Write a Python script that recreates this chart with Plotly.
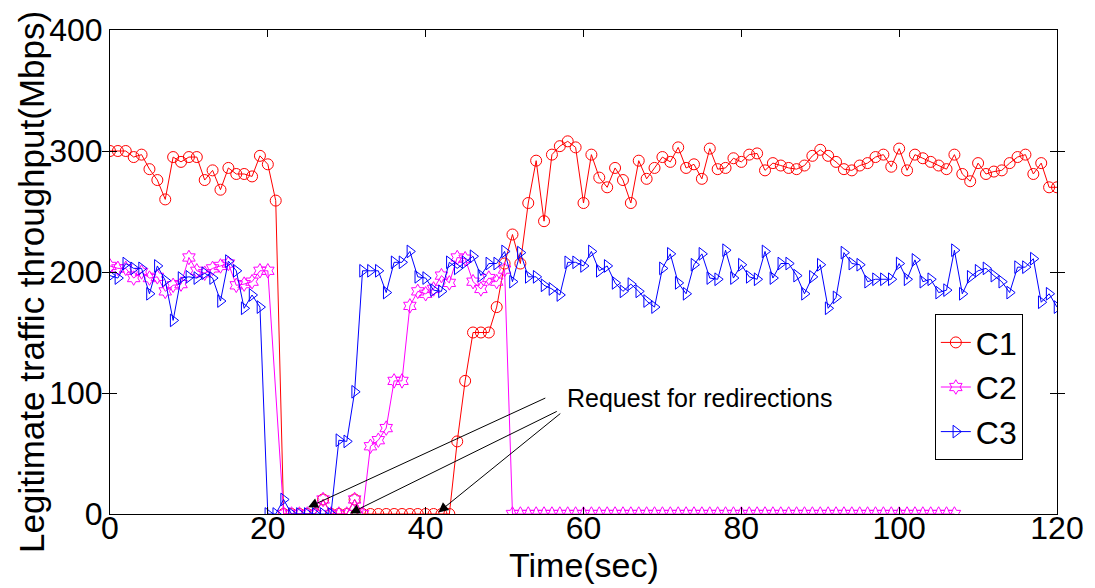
import plotly.graph_objects as go

# time axis (seconds)
t_c1 = list(range(0, 121))
t_c2 = list(range(0, 21)) + list(range(22, 108))
t_c3 = list(range(0, 121))

# throughput in Mbps
c1 = [300, 300, 300, 295, 297, 285, 276, 260, 295, 291, 295, 295, 276, 284, 268, 286, 281, 281, 279, 296, 289, 259,
      0, 0, 0, 0, 0, 12, 0, 0, 0, 12, 0, 0, 0, 0, 0, 0, 0, 0, 0, 0, 0, 0,
      60, 110, 150, 150, 150, 171, 207, 231, 207, 257, 292, 242, 297, 304, 308, 303, 257, 297, 278, 270,
      286, 276, 257, 292, 277, 286, 295, 291, 303, 286, 289, 277, 302, 285, 286, 294, 291, 297, 298, 284,
      290, 288, 286, 285, 288, 296, 301, 296, 291, 285, 284, 288, 290, 295, 297, 287, 302, 284, 297, 294,
      291, 288, 285, 297, 281, 275, 290, 281, 283, 284, 290, 295, 297, 281, 290, 270, 270]

c2 = [205, 203, 203, 195, 200, 195, 196, 184, 189, 190, 212, 201, 199, 203, 205, 207, 189, 190, 192, 201, 201,
      0, 0, 0, 0, 0, 12, 0, 0, 0, 12, 0,
      56, 61, 71, 110, 110, 172, 184, 182, 186, 197, 191, 212, 211, 192, 186, 195, 192, 202,
      0, 0, 0, 0, 0, 0, 0, 0, 0, 0, 0, 0, 0, 0, 0, 0, 0, 0, 0, 0, 0, 0, 0, 0, 0, 0, 0, 0, 0,
      0, 0, 0, 0, 0, 0, 0, 0, 0, 0, 0, 0, 0, 0, 0, 0, 0, 0, 0, 0, 0, 0, 0, 0, 0, 0, 0, 0]

c3 = [197, 195, 207, 203, 203, 182, 205, 193, 160, 195, 196, 195, 199, 195, 176, 209, 201, 170, 181, 171,
      0, 0, 12, 0, 0, 0, 0, 0, 0,
      61, 60, 101,
      201, 201, 201, 183, 208, 208, 217, 196, 195, 185, 184, 208, 203, 208, 213, 197, 207, 207, 217, 192,
      216, 196, 196, 189, 186, 181, 208, 208, 205, 217, 201, 205, 191,
      184, 190, 184, 176, 171, 203, 215, 191, 182, 206, 215, 195, 194, 218, 195, 206, 196, 194, 217, 195,
      207, 207, 197, 182, 196, 206, 170, 179, 216, 207, 206, 192, 194, 194, 194, 207, 194, 210, 192, 194,
      183, 185, 218, 182, 196, 201, 203, 197, 192, 183, 204, 204, 211, 175, 182, 171]

series = [
    ("C1", t_c1, c1, "#ff0000", "circle-open", 11),
    ("C2", t_c2, c2, "#ff00ff", "hexagram-open", 11),
    ("C3", t_c3, c3, "#0000ff", "triangle-right-open", 11),
]

x_ticks = [0, 20, 40, 60, 80, 100, 120]
y_ticks = [0, 100, 200, 300, 400]

FONT = "Liberation Sans, Arial, Helvetica, sans-serif"
TICK_FONT = dict(family=FONT, size=32, color="black")

fig = go.Figure()
for name, tx, vals, color, symbol, size in series:
    fig.add_trace(go.Scatter(
        x=tx, y=vals, name=name, mode="lines+markers",
        line=dict(color=color, width=1),
        marker=dict(symbol=symbol, size=size, color=color, line=dict(color=color, width=1)),
    ))

# empty trace that carries the tick-label axis for time
fig.add_trace(go.Scatter(
    x=x_ticks, y=[None] * len(x_ticks), xaxis="x2", mode="markers",
    showlegend=False, hoverinfo="skip",
))

# arrows pointing at the redirection requests: (head_x, head_y, tail_x, tail_y)
arrows = [(25.1, 5.5, 55.35, 96.4), (30.4, 0.5, 56.8, 85.4), (41.6, 1.3, 57.25, 84.0)]
annotations = []
for hx, hy, tx_, ty in arrows:
    annotations.append(dict(
        x=hx, y=hy, ax=tx_, ay=ty, xref="x", yref="y", axref="x", ayref="y",
        text="", showarrow=True, arrowhead=2, arrowsize=2, arrowwidth=1, arrowcolor="black",
    ))
annotations.append(dict(
    x=57.7, y=96, xref="x", yref="y", text="Request for redirections", showarrow=False,
    xanchor="left", yanchor="middle", font=dict(family=FONT, size=25, color="black"),
))
annotations.append(dict(
    x=0.5, y=0, xref="paper", yref="paper", text="Time(sec)", showarrow=False,
    xanchor="center", yanchor="middle", yshift=-51, font=dict(family=FONT, size=34, color="black"),
))
annotations.append(dict(
    x=0, y=0.5, xref="paper", yref="paper", text="Legitimate traffic throughput(Mbps)", showarrow=False,
    xanchor="center", yanchor="middle", xshift=-79, yshift=-10, textangle=-90,
    font=dict(family=FONT, size=35, color="black"),
))

frame = dict(
    showline=True, linecolor="black", linewidth=1, mirror="allticks",
    ticks="inside", ticklen=7, tickcolor="black", tickwidth=1,
    showgrid=False, zeroline=False, automargin=False,
)

fig.update_layout(
    width=1095, height=588,
    margin=dict(l=110, r=38, t=30, b=74),
    paper_bgcolor="white", plot_bgcolor="white",
    xaxis=dict(range=[0, 120], tickvals=x_ticks, showticklabels=False, **frame),
    # tick labels for the time axis, set just under the frame
    xaxis2=dict(range=[0, 120], tickvals=x_ticks, overlaying="x", anchor="free", position=0.017,
                side="bottom", showline=False, ticks="", showgrid=False, zeroline=False,
                automargin=False, tickfont=TICK_FONT),
    yaxis=dict(range=[0, 400], tickvals=y_ticks, tickfont=TICK_FONT, **frame),
    legend=dict(
        x=0.871, y=0.413, xanchor="left", yanchor="top",
        bgcolor="white", bordercolor="black", borderwidth=1,
        font=dict(family=FONT, size=32, color="black"),
        tracegroupgap=0, itemwidth=30,
    ),
    annotations=annotations,
    showlegend=True,
)

fig.write_html("out.html")
